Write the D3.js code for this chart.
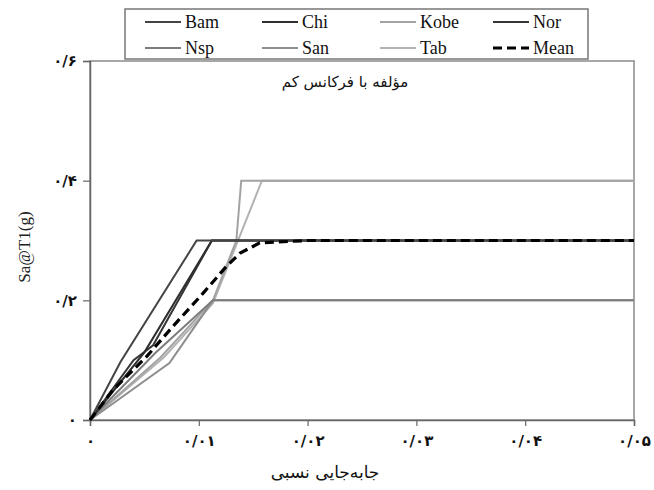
<!DOCTYPE html>
<html><head><meta charset="utf-8">
<script src="https://cdn.jsdelivr.net/npm/d3@7"></script>
<style>body{margin:0;background:#fff}svg{display:block}</style>
</head><body>
<script>
// ---- data ----
const seriesNames = ["Bam","Chi","Kobe","Nor","Nsp","San","Tab","Mean"];
const Bam  = [[0,0],[0.0028,0.097],[0.0098,0.30],[0.05,0.30]];
const Chi  = [[0,0],[0.0050,0.113],[0.0112,0.30],[0.05,0.30]];
const Kobe = [[0,0],[0.0065,0.105],[0.0113,0.20],[0.01345,0.30],[0.0139,0.40],[0.05,0.40]];
const Nor  = [[0,0],[0.0040,0.100],[0.0058,0.125],[0.0112,0.30],[0.05,0.30]];
const Nsp  = [[0,0],[0.0060,0.112],[0.0113,0.20],[0.05,0.20]];
const San  = [[0,0],[0.0073,0.095],[0.0113,0.20],[0.05,0.20]];
const Tab  = [[0,0],[0.0068,0.105],[0.0113,0.195],[0.0158,0.40],[0.05,0.40]];
const Mean = [[0,0],[0.0021,0.050],[0.0052,0.106],[0.0076,0.156],[0.0104,0.212],[0.0125,0.256],[0.0138,0.279],[0.0156,0.296],[0.020,0.300],[0.05,0.300]];
const xTicks = [0,0.01,0.02,0.03,0.04,0.05];
const xTickLabels = ["۰","۰/۰۱","۰/۰۲","۰/۰۳","۰/۰۴","۰/۰۵"];
const yTicks = [0,0.2,0.4,0.6];
const yTickLabels = ["۰","۰/۲","۰/۴","۰/۶"];
const titleText = "مؤلفه با فرکانس کم";
const xTitle = "جابه‌جایی نسبی";
const yTitle = "Sa@T1(g)";

const seriesData = {Bam,Chi,Kobe,Nor,Nsp,San,Tab,Mean};
const colors = {Bam:"#444",Chi:"#2e2e2e",Kobe:"#a3a3a3",Nor:"#353535",Nsp:"#7c7c7c",San:"#8e8e8e",Tab:"#b3b3b3",Mean:"#000"};

const W=654,H=490;
const svg=d3.select("body").append("svg").attr("width",W).attr("height",H);
const x=d3.scaleLinear().domain([0,0.05]).range([90,634]);
const y=d3.scaleLinear().domain([0,0.6]).range([420,61]);

// plot frame
svg.append("rect").attr("x",x(0)).attr("y",y(0.6)).attr("width",x(0.05)-x(0)).attr("height",y(0)-y(0.6))
  .attr("fill","none").attr("stroke","#8a8a8a").attr("stroke-width",1.5);

const serifFa = "'DejaVu Serif','DejaVu Sans',serif";
// axes
const ax=svg.append("g").attr("transform",`translate(0,${y(0)})`)
  .call(d3.axisBottom(x).tickValues(xTicks).tickSize(6).tickPadding(9).tickFormat((d,i)=>xTickLabels[i]));
const ay=svg.append("g").attr("transform",`translate(${x(0)},0)`)
  .call(d3.axisLeft(y).tickValues(yTicks).tickSize(7).tickPadding(6).tickFormat((d,i)=>yTickLabels[i]));
[ax,ay].forEach(g=>{
  g.select(".domain").attr("stroke","#666").attr("stroke-width",1.5);
  g.selectAll(".tick line").attr("stroke","#666").attr("stroke-width",1.2);
  g.selectAll("text").attr("font-family",serifFa).attr("font-size",15).attr("font-weight","bold").attr("fill","#111").attr("direction","ltr");
});

// lines
const line=d3.line().x(d=>x(d[0])).y(d=>y(d[1]));
const order=["Tab","Kobe","San","Nsp","Nor","Chi","Bam"];
order.forEach(n=>{
  svg.append("path").datum(seriesData[n]).attr("d",line).attr("fill","none")
    .attr("stroke",colors[n]).attr("stroke-width",2);
});
svg.append("path").datum(Mean).attr("d",line).attr("fill","none")
  .attr("stroke","#000").attr("stroke-width",3.2).attr("stroke-dasharray","9,5");

// title inside
svg.append("text").attr("x",345).attr("y",87).attr("text-anchor","middle")
  .attr("font-family",serifFa).attr("font-size",15).attr("fill","#111").attr("direction","rtl").text(titleText);
// axis titles
svg.append("text").attr("x",325).attr("y",478).attr("text-anchor","middle")
  .attr("font-family",serifFa).attr("font-size",17).attr("fill","#111").attr("direction","rtl").text(xTitle);
svg.append("text").attr("transform","translate(30,247) rotate(-90)").attr("text-anchor","middle")
  .attr("font-family","'Liberation Serif',serif").attr("font-size",17).attr("fill","#222").text(yTitle);

// legend
svg.append("rect").attr("x",125).attr("y",9).attr("width",463).attr("height",50)
  .attr("fill","#fff").attr("stroke","#777").attr("stroke-width",1.5);
const colX=[145,262,380,493], rowY=[22,48];
seriesNames.forEach((n,i)=>{
  const cx=colX[i%4], cy=rowY[Math.floor(i/4)];
  const g=svg.append("g");
  g.append("line").attr("x1",cx).attr("x2",cx+36).attr("y1",cy).attr("y2",cy)
    .attr("stroke",colors[n]).attr("stroke-width",n==="Mean"?3.2:2)
    .attr("stroke-dasharray",n==="Mean"?"9,5":null);
  g.append("text").attr("x",cx+40).attr("y",cy+6).attr("font-family","'Liberation Serif',serif")
    .attr("font-size",18).attr("fill","#111").text(n);
});
</script>
</body></html>
